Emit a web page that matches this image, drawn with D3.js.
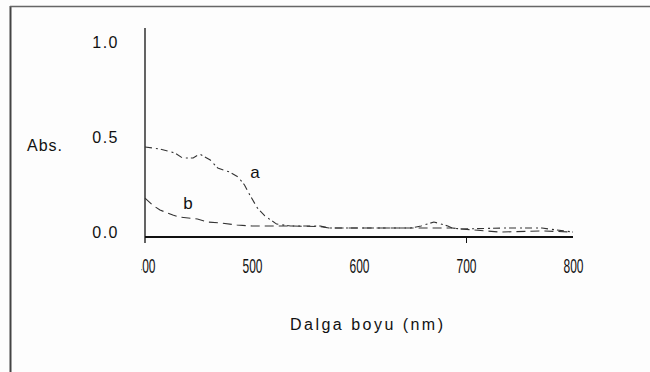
<!DOCTYPE html>
<html>
<head>
<meta charset="utf-8">
<script src="https://cdn.jsdelivr.net/npm/d3@7"></script>
<style>
  body { margin: 0; background: #fdfdfd; }
  svg { display: block; font-family: "Liberation Sans", Arial, sans-serif; }
</style>
</head>
<body>
<svg width="650" height="372"></svg>
<script>
// curve a (upper), wavelength in nm and absorbance
const aWave = [400, 414, 428, 435, 445, 451, 461, 468, 479, 487, 493, 498, 505, 512, 523, 536, 564, 572, 610, 648, 658, 670, 683, 687, 696, 735, 771, 800]
const aAbs = [0.474, 0.463, 0.442, 0.416, 0.416, 0.437, 0.405, 0.363, 0.342, 0.316, 0.274, 0.221, 0.153, 0.111, 0.068, 0.058, 0.058, 0.047, 0.047, 0.047, 0.058, 0.079, 0.058, 0.047, 0.042, 0.047, 0.047, 0.026]
// curve b (lower)
const bWave = [400, 407, 414, 426, 432, 449, 458, 470, 486, 500, 523, 536, 564, 572, 648, 687, 696, 732, 771, 800]
const bAbs = [0.205, 0.168, 0.142, 0.116, 0.105, 0.095, 0.079, 0.074, 0.063, 0.058, 0.058, 0.058, 0.055, 0.047, 0.047, 0.047, 0.042, 0.026, 0.032, 0.026]

const xTicks = [400, 500, 600, 700, 800]
const xTickLabels = ["400", "500", "600", "700", "800"]
const yTicks = [0, 0.5, 1.0]
const yTickLabels = ["0.0", "0.5", "1.0"]

const svg = d3.select("svg")
const x = d3.scaleLinear().domain([400, 800]).range([145, 573])
const y = d3.scaleLinear().domain([0, 1]).range([237, 47])

// outer frame (left and top edges only)
svg.append("line").attr("x1", 10.5).attr("x2", 10.5).attr("y1", 6).attr("y2", 372)
  .attr("stroke", "#444").attr("stroke-width", 2)
svg.append("line").attr("x1", 10).attr("x2", 650).attr("y1", 6.5).attr("y2", 6.5)
  .attr("stroke", "#666").attr("stroke-width", 1.5)

// y axis
const yAxis = svg.append("g")
  .attr("transform", "translate(145,0)")
  .call(d3.axisLeft(y).tickValues(yTicks).tickSize(0).tickFormat((d, i) => yTickLabels[i]))
yAxis.select(".domain").attr("d", `M0,28V243`).attr("stroke", "#111").attr("stroke-width", 1.3)
yAxis.selectAll("text")
  .attr("x", -26).attr("dy", "0")
  .attr("font-size", 16).attr("letter-spacing", 1.5)
  .attr("fill", "#111")
  .attr("font-family", "Liberation Sans, Arial, sans-serif")

// x axis (the 400 label is cut at the left, as in the original scan)
svg.append("defs").append("clipPath").attr("id", "firstclip")
  .append("rect").attr("x", -4).attr("y", 0).attr("width", 30).attr("height", 60)
const xAxis = svg.append("g")
  .attr("transform", "translate(0,237)")
  .call(d3.axisBottom(x).tickValues(xTicks).tickSize(6).tickFormat((d, i) => xTickLabels[i]))
xAxis.select(".domain").attr("d", `M${x(400)},0H${x(800)}`).attr("stroke", "#111").attr("stroke-width", 2)
xAxis.selectAll(".tick line").attr("stroke", "#111")
  .attr("opacity", (d) => (d === 700 ? 1 : 0))
xAxis.selectAll("text")
  .attr("y", 36).attr("dy", "0")
  .attr("font-size", 21)
  .attr("textLength", 20).attr("lengthAdjust", "spacingAndGlyphs")
  .attr("fill", "#111")
  .attr("font-family", "Liberation Sans, Arial, sans-serif")
  .attr("clip-path", (d) => (d === 400 ? "url(#firstclip)" : null))

// curves
const line = d3.line().x((d) => x(d[0])).y((d) => y(d[1]))
const series = [
  { name: "a", wave: aWave, abs: aAbs, dash: "7,4,2,3" },
  { name: "b", wave: bWave, abs: bAbs, dash: "9,5" }
]
series.forEach((s) => {
  svg.append("path")
    .datum(s.wave.map((w, i) => [w, s.abs[i]]))
    .attr("d", line)
    .attr("fill", "none")
    .attr("stroke", "#333")
    .attr("stroke-width", 1.1)
    .attr("stroke-dasharray", s.dash)
})

// curve labels
svg.append("text").attr("x", 255).attr("y", 178).attr("text-anchor", "middle")
  .attr("font-size", 17).attr("fill", "#111").text("a")
svg.append("text").attr("x", 188).attr("y", 209).attr("text-anchor", "middle")
  .attr("font-size", 17).attr("fill", "#111").text("b")

// axis titles
svg.append("text").attr("x", 27).attr("y", 151)
  .attr("font-size", 16).attr("letter-spacing", 1).attr("fill", "#111").text("Abs.")
svg.append("text").attr("x", 290).attr("y", 330)
  .attr("font-size", 16).attr("textLength", 153).attr("lengthAdjust", "spacing")
  .attr("fill", "#111").text("Dalga boyu (nm)")
</script>
</body>
</html>
